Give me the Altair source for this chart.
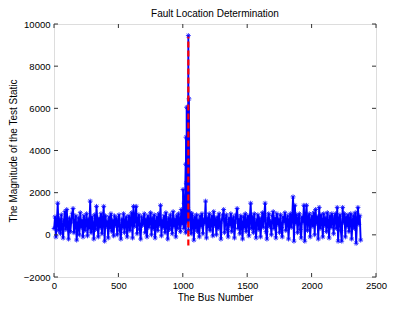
import altair as alt
import pandas as pd

# Test statistic magnitude along the bus index (read approximately, one value per ~7 buses)
band_values = [
    300, 850, -100, 600, 1500, 200, 750, 50, 950, 400, -150, 700, 1100, 250, 1200, 500, -200, 800, 150, 650,
    1000, 1250, 100, 550, 900, -250, 450, 800, 0, 1050, 350, 700, -100, 900, 200, 600, 1000, -50, 750, 300,
    1600, 100, 850, 450, -200, 950, 250, 1350, 600, -100, 800, 350, 1000, 50, 700, 1350, -300, 900, 400, 650,
    -150, 850, 300, 1000, 150, 700, -50, 900, 450, 800, 0, 600, 950, 200, -200, 750, 350, 1000, 100, 650,
    850, -100, 500, 900, 200, 750, 1050, -150, 1350, 400, 800, 1350, 50, 700, 950, 250, -200, 850, 450, 600,
    1000, 100, 750, -100, 900, 350, 650, 1050, 0, 800, 300, 950, -150, 600, 850, 200, 1000, 450, 1400, -50,
    700, 350, 900, 100, 1050, 500, -200, 800, 250, 950, 600, 50, 1100, 400, 750, -100, 900, 300, 1000, 650,
    150, 1200, 500, 850, 300, 1000, 100, 600, 900, 200, 750, 1050, 50, 1000, 650, -250, 850, 300, 950, 150,
    700, -100, 900, 400, 1000, 50, 750, 550, 1600, -150, 800, 350, 1000, 200, 650, 900, -50, 1100, 450, 750,
    0, 850, 300, 1000, 550, -200, 700, 900, 1200, 100, 650, 950, 250, -100, 800, 450, 1000, 150, 700, 850,
    -150, 600, 950, 1250, 300, 750, 50, 900, 500, -200, 850, 350, 1000, 150, 650, 900, -50, 750, 1500, 300,
    850, 100, 1000, 450, -150, 700, 950, 250, 800, -100, 600, 1050, 350, 900, 1500, 150, -200, 750, 1000, 400,
    650, 0, 900, 1100, 300, 800, -150, 1000, 500, 750, 100, 950, 350, -100, 850, 600, 1050, 200, 700, 900,
    -200, 650, 1000, 350, 800, 1800, -300, 1400, 550, 950, 100, 750, 1000, 250, -150, 850, 600, 1400, -300, 900,
    1400, 200, 750, 1000, -100, 650, 900, 400, 1050, 0, 1200, 550, 850, -200, 1300, 300, 950, 700, -100, 1000,
    450, 800, 150, 1050, 600, -150, 900, 350, 1000, 700, 50, 850, 1000, 300, 1300, -300, 750, 950, 200, -300,
    1300, 600, 1000, -100, 850, 400, 950, 150, 750, 1000, -200, 650, 900, 300, 1050, -400, 700, 1300, 500, 900, -250,
]
band_start = 1
band_step = 7.0

# Points of the fault spike
spike_bus = [1002, 1010, 1015, 1022, 1025, 1027, 1030, 1036, 1040, 1043, 1048, 1052]
spike_values = [2150, 1500, 1800, 3350, 4630, 2450, 6050, 2200, 1200, 9450, 6450, 800]

# Detected fault location (red dashed line)
fault_bus = [1043]
fault_low = [-500]
fault_high = [9400]

x_ticks = [0, 500, 1000, 1500, 2000, 2500]
y_ticks = [-2000, 0, 2000, 4000, 6000, 8000, 10000]

W, H = 322, 253

band_bus = [round(band_start + i * band_step) for i in range(len(band_values))]
df = pd.DataFrame({"bus": band_bus + spike_bus, "value": band_values + spike_values})
df = df.sort_values("bus", kind="stable").reset_index(drop=True)
df["order"] = range(len(df))

fault_df = pd.DataFrame({"bus": fault_bus, "lo": fault_low, "hi": fault_high})
xt_df = pd.DataFrame({"t": x_ticks})
yt_df = pd.DataFrame({"t": y_ticks})

font = "Liberation Sans"
xscale = alt.Scale(domain=[0, 2500], nice=False, zero=False)
yscale = alt.Scale(domain=[-2000, 10000], nice=False, zero=False)

xaxis = alt.Axis(values=x_ticks, title="The Bus Number", grid=False, domain=False, ticks=False,
                 labelPadding=3, labelFontSize=9.5, labelColor="#000", titleFontSize=10,
                 titleFontWeight="normal", titleColor="#000", titlePadding=3, format="d",
                 labelFlush=False, labelOverlap=False)
yaxis = alt.Axis(values=y_ticks, title="The Magnitude of the Test Static", grid=False, domain=False,
                 ticks=False, labelPadding=4, labelFontSize=9.5, labelColor="#000", titleFontSize=10,
                 titleFontWeight="normal", titleColor="#000", titlePadding=5, format="d",
                 labelFlush=False, labelOverlap=False)

base = alt.Chart(df)
line = base.mark_line(color="#0000FF", strokeWidth=1.9).encode(
    x=alt.X("bus:Q", scale=xscale, axis=xaxis),
    y=alt.Y("value:Q", scale=yscale, axis=yaxis),
    order="order:Q",
)
star = "M-1,0L1,0M0,-1L0,1M-0.7,-0.7L0.7,0.7M-0.7,0.7L0.7,-0.7"
pts = base.mark_point(shape=star, color="#0000FF", filled=False, size=24, strokeWidth=0.8, opacity=1).encode(
    x=alt.X("bus:Q", scale=xscale),
    y=alt.Y("value:Q", scale=yscale),
)
fault = alt.Chart(fault_df).mark_rule(color="#FF0000", strokeWidth=2.2, strokeDash=[6, 3]).encode(
    x=alt.X("bus:Q", scale=xscale),
    y=alt.Y("lo:Q", scale=yscale),
    y2="hi:Q",
)
tick_style = dict(color="#333333", strokeWidth=1)
xt_bottom = alt.Chart(xt_df).mark_rule(**tick_style).encode(
    x=alt.X("t:Q", scale=xscale), y=alt.value(H), y2=alt.value(H - 4))
xt_top = alt.Chart(xt_df).mark_rule(**tick_style).encode(
    x=alt.X("t:Q", scale=xscale), y=alt.value(0), y2=alt.value(4))
yt_left = alt.Chart(yt_df).mark_rule(**tick_style).encode(
    y=alt.Y("t:Q", scale=yscale), x=alt.value(0), x2=alt.value(4))
yt_right = alt.Chart(yt_df).mark_rule(**tick_style).encode(
    y=alt.Y("t:Q", scale=yscale), x=alt.value(W), x2=alt.value(W - 4))

chart = alt.layer(line, pts, fault, xt_bottom, xt_top, yt_left, yt_right).properties(
    width=W, height=H,
    title=alt.TitleParams("Fault Location Determination", fontSize=10, fontWeight="normal",
                          font=font, color="#000", offset=0, anchor="middle"),
    autosize=alt.AutoSizeParams(type="none"),
    padding={"left": 46, "top": 16, "right": 20, "bottom": 28},
).configure_view(stroke="#333333", strokeWidth=1).configure_axis(
    labelFont=font, titleFont=font
).configure(background="white")

chart.save("out.html", embed_options={"renderer": "svg", "actions": False})
